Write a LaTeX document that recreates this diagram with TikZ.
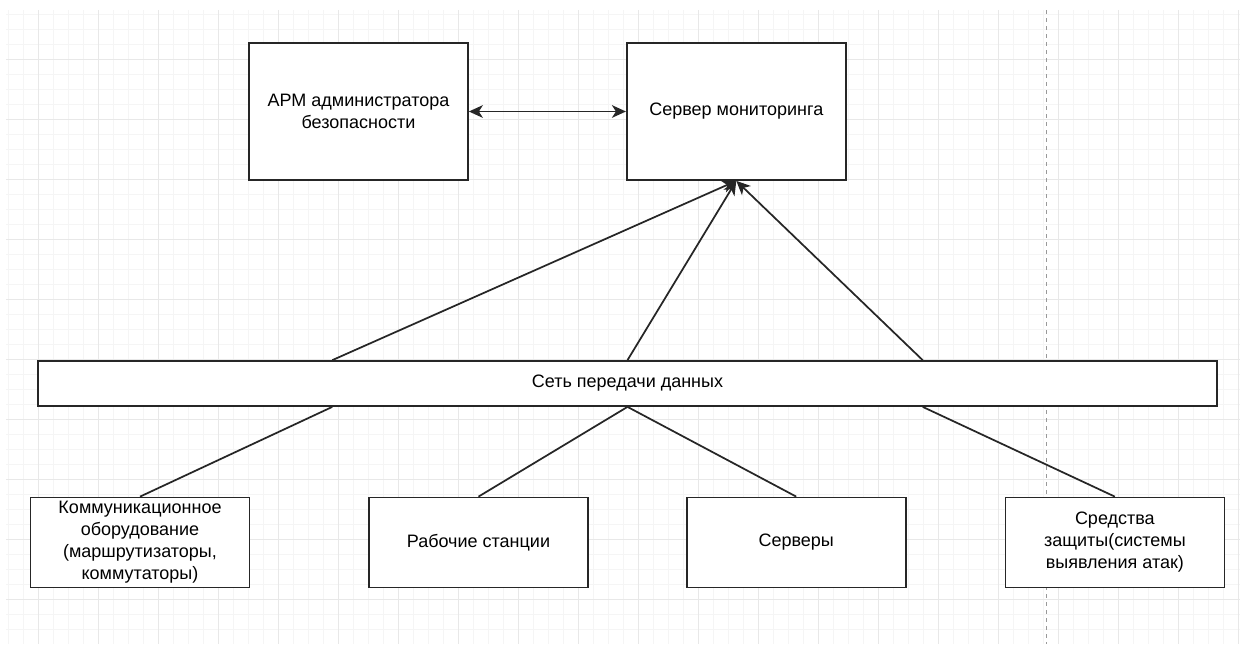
\documentclass[tikz,border=0pt]{standalone}
\usepackage{fontspec}
\setmainfont{Liberation Sans}
\usepackage{xcolor}
\usepackage{tikz}
\usetikzlibrary{arrows.meta,positioning,calc}

\begin{document}
\begin{tikzpicture}[
  font=\fontsize{13.5}{16.5}\selectfont,
  box/.style={draw=black!85, line width=1.3pt, fill=white, align=center, inner sep=2pt,
              minimum width=164.25pt, minimum height=102.75pt},
  lowbox/.style={box, minimum height=67.5pt},
  gridminor/.style={draw=black!4, line width=0.6pt},
  gridmajor/.style={draw=black!9, line width=0.75pt},
  tip/.tip={Stealth[length=10.5pt, width=9.5pt, inset=3pt]},
  arr/.style={-tip, line width=1.3pt, black!85},
  dblarr/.style={tip-tip, line width=1.3pt, black!85},
  link/.style={line width=1.3pt, black!85}
]
\useasboundingbox (0,0) rectangle (930pt,-483pt);
\fill[white] (0,0) rectangle (930pt,-483pt);
\foreach \i in {0,...,82} \draw[gridminor] ({6pt+\i*11.25pt},-7.5pt) -- (6pt+\i*11.25pt,-483pt);
\foreach \j in {0,...,41} \draw[gridminor] (4.5pt,{-10.5pt-\j*11.25pt}) -- (930pt,-10.5pt-\j*11.25pt);
\foreach \i in {0,...,20} \draw[gridmajor] ({28.5pt+\i*45pt},-7.5pt) -- (28.5pt+\i*45pt,-483pt);
\foreach \j in {0,...,9} \draw[gridmajor] (4.5pt,{-44.25pt-\j*45pt}) -- (930pt,-44.25pt-\j*45pt);
\draw[black!40, line width=0.75pt, dash pattern=on 3pt off 3pt] (784.5pt,-7.5pt) -- (784.5pt,-483pt);

\node[box] (apm) at (268.875pt,-83.625pt) {АРМ администратора\\безопасности};
\node[box, right=117.8pt of apm] (srv) {Сервер мониторинга};
\node[box, minimum width=884.25pt, minimum height=33.75pt] (net) at (470.625pt,-287.625pt) {Сеть передачи данных};
\node[lowbox] (comm) at (105pt,-406.875pt) {Коммуникационное\\оборудование\\(маршрутизаторы,\\коммутаторы)};
\node[lowbox, right=88.3pt of comm] (ws) {Рабочие станции};
\node[lowbox, right=72.8pt of ws] (srvs) {Серверы};
\node[lowbox, right=73.4pt of srvs] (prot) {Средства\\защиты(системы\\выявления атак)};

\draw[dblarr] (apm.east) -- (srv.west);
\draw[arr] ($(net.north west)!0.25!(net.north east)$) -- (srv.south);
\draw[arr] (net.north) -- (srv.south);
\draw[arr] ($(net.north west)!0.75!(net.north east)$) -- (srv.south);
\draw[link] (comm.north) -- ($(net.south west)!0.25!(net.south east)$);
\draw[link] (ws.north) -- (net.south);
\draw[link] (srvs.north) -- (net.south);
\draw[link] (prot.north) -- ($(net.south west)!0.75!(net.south east)$);
\end{tikzpicture}
\end{document}
